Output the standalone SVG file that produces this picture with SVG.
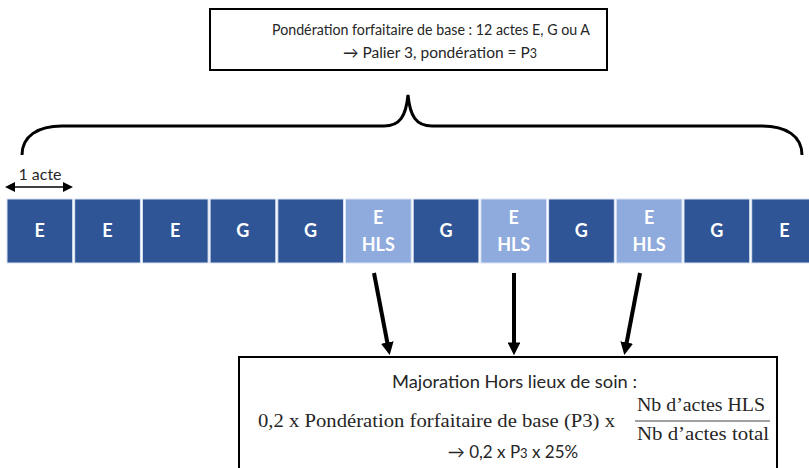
<svg xmlns="http://www.w3.org/2000/svg" width="809" height="468" viewBox="0 0 809 468">
<style>
.box{fill:#fff;stroke:#000;stroke-width:2}
.t{font-family:Lato,"Liberation Sans",sans-serif;fill:#262626}
.s{font-family:"Liberation Serif",serif;fill:#262626}
.dk{fill:#2F5597;stroke:#DAE3F3;stroke-width:1}
.lt{fill:#8FAADC;stroke:#DAE3F3;stroke-width:1}
.lab{font-family:Lato,"Liberation Sans",sans-serif;font-weight:bold;fill:#fff;font-size:18px;text-anchor:middle}
.arr{stroke:#000;stroke-width:4;fill:none}
</style>
<defs>
<marker id="ah" markerWidth="3.2" markerHeight="3.2" refX="0.4" refY="1.6" orient="auto" markerUnits="strokeWidth"><path d="M0,0 L3.2,1.6 L0,3.2 z" fill="#000"/></marker>
</defs>
<g id="top-box">
<rect class="box" x="210" y="9" width="397" height="61"/>
<text class="t" x="272" y="35" font-size="15.5" textLength="318" lengthAdjust="spacingAndGlyphs">Pondération forfaitaire de base : 12 actes E, G ou A</text>
<text class="t" x="440" y="58" font-size="15.5" text-anchor="middle">→ Palier 3, pondération = P<tspan font-size="12.5">3</tspan></text>
</g>
<g id="brace">
<path d="M22,155 C22,136 38,126 62,126 L384,126 C400,126 406,116 408,95 C410,116 416,126 432,126 L762,126 C786,126 802,136 802,155" fill="none" stroke="#000" stroke-width="3"/>
</g>
<g id="unit">
<line x1="13" y1="187" x2="65" y2="187" stroke="#000" stroke-width="1.5"/>
<path d="M5,187 L15,182 L15,192 z M73,187 L63,182 L63,192 z" fill="#000"/>
<text class="t" x="40" y="180" font-size="16" text-anchor="middle">1 acte</text>
</g>
<g id="acts">
<g id="a1"><rect class="dk" x="7" y="199" width="65.7" height="64"/><text class="lab" x="39.8" y="237">E</text></g>
<g id="a2"><rect class="dk" x="74.7" y="199" width="65.7" height="64"/><text class="lab" x="107.5" y="237">E</text></g>
<g id="a3"><rect class="dk" x="142.4" y="199" width="65.7" height="64"/><text class="lab" x="175.2" y="237">E</text></g>
<g id="a4"><rect class="dk" x="210.1" y="199" width="65.7" height="64"/><text class="lab" x="242.9" y="237">G</text></g>
<g id="a5"><rect class="dk" x="277.8" y="199" width="65.7" height="64"/><text class="lab" x="310.6" y="237">G</text></g>
<g id="a6"><rect class="lt" x="345.5" y="199" width="65.7" height="64"/><text class="lab" x="378.3" y="224">E</text><text class="lab" x="378.3" y="251">HLS</text></g>
<g id="a7"><rect class="dk" x="413.2" y="199" width="65.7" height="64"/><text class="lab" x="446" y="237">G</text></g>
<g id="a8"><rect class="lt" x="480.9" y="199" width="65.7" height="64"/><text class="lab" x="513.7" y="224">E</text><text class="lab" x="513.7" y="251">HLS</text></g>
<g id="a9"><rect class="dk" x="548.6" y="199" width="65.7" height="64"/><text class="lab" x="581.4" y="237">G</text></g>
<g id="a10"><rect class="lt" x="616.3" y="199" width="65.7" height="64"/><text class="lab" x="649.1" y="224">E</text><text class="lab" x="649.1" y="251">HLS</text></g>
<g id="a11"><rect class="dk" x="684" y="199" width="65.7" height="64"/><text class="lab" x="716.8" y="237">G</text></g>
<g id="a12"><rect class="dk" x="751.7" y="199" width="65.7" height="64"/><text class="lab" x="784.5" y="237">E</text></g>
</g>
<g id="connectors">
<line class="arr" x1="374" y1="273" x2="387.6" y2="344" marker-end="url(#ah)"/>
<line class="arr" x1="514" y1="273" x2="514" y2="344" marker-end="url(#ah)"/>
<line class="arr" x1="640" y1="273" x2="626.4" y2="344" marker-end="url(#ah)"/>
</g>
<g id="bottom-box">
<rect class="box" x="239" y="357" width="538" height="115"/>
<text class="t" x="392" y="388" font-size="16.5" textLength="245" lengthAdjust="spacingAndGlyphs">Majoration Hors lieux de soin :</text>
<text class="s" x="258" y="427" font-size="19" textLength="357" lengthAdjust="spacingAndGlyphs">0,2 x Pondération forfaitaire de base (P3) x</text>
<text class="s" x="637" y="411" font-size="19" textLength="128" lengthAdjust="spacingAndGlyphs">Nb d’actes HLS</text>
<line x1="635" y1="421" x2="770" y2="421" stroke="#808080" stroke-width="1.5"/>
<text class="s" x="637" y="440" font-size="19" textLength="132" lengthAdjust="spacingAndGlyphs">Nb d’actes total</text>
<text class="t" x="513" y="458" font-size="17" text-anchor="middle">→ 0,2 x P<tspan font-size="13">3</tspan> x 25%</text>
</g>
</svg>
